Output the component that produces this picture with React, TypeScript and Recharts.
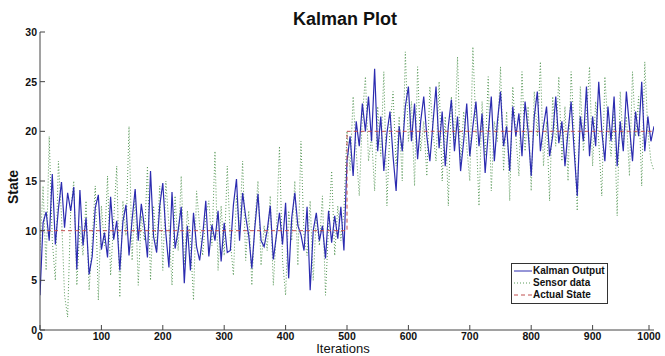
import { LineChart, Line, XAxis, YAxis } from 'recharts';

const STEP = 5;

const kalmanFirstHalf = [
  3.5, 10.8, 11.9, 9.0, 15.7, 8.6, 12.2, 14.9, 10.3, 13.8,
  12.0, 14.4, 6.1, 14.1, 8.5, 11.3, 5.6, 7.4, 12.3, 13.6,
  8.1, 9.8, 7.3, 13.4, 9.1, 11.0, 6.0, 10.9, 12.6, 7.5,
  11.1, 14.2, 9.0, 12.7, 10.4, 7.3, 16.0, 9.4, 7.8, 12.5,
  14.8, 9.7, 6.3, 13.9, 8.2, 10.0, 12.4, 4.7, 10.5, 6.0,
  11.8, 8.4, 7.0, 9.5, 13.0, 7.4, 10.6, 9.0, 12.0, 6.9,
  10.8, 7.8, 8.0, 12.6, 15.2, 9.0, 13.8, 11.4, 9.5, 6.2,
  10.4, 13.7, 9.0, 8.4, 10.0, 12.5, 7.1, 9.5, 11.8, 8.6,
  12.8, 5.2, 11.3, 13.8, 10.5, 9.6, 8.0, 12.4, 4.0, 10.0,
  11.8, 9.0, 10.5, 7.2, 12.0, 8.8, 11.5, 9.2, 12.4, 8.0,
];

const kalmanSecondHalf = [
  17.0, 19.5, 15.5, 21.0, 18.5, 22.8, 20.0, 23.5, 19.0, 26.3,
  18.0, 21.5, 16.0, 19.8, 22.0, 17.5, 14.0, 20.5, 18.0, 22.5,
  24.5, 19.0, 22.8, 17.2, 21.0, 23.5, 19.5, 17.0, 20.8, 24.5,
  18.3, 22.0, 16.5, 20.5, 23.2, 18.0, 21.5, 16.0, 19.0, 22.8,
  17.5, 20.5, 23.0, 18.5, 21.8, 15.8, 19.8, 23.5, 17.0, 21.0,
  24.0, 18.5, 20.5, 16.0, 22.5, 19.5, 21.8, 17.5, 23.0, 20.0,
  15.5, 21.5, 24.0, 18.0, 20.5, 22.5, 17.5, 19.5, 23.5, 18.8,
  21.0, 16.5, 20.0, 23.0, 18.0, 13.5, 21.5, 19.0, 24.5, 17.5,
  21.5, 18.5, 25.0, 20.0, 17.0, 22.5, 19.0, 23.5, 16.5, 21.0,
  18.0, 24.0, 20.5, 17.0, 22.0, 19.5, 25.0, 18.0, 21.5, 19.0,
  20.5,
];

const sensorFirstHalf = [
  8.0, 14.5, 6.0, 19.5, 9.0, 5.0, 17.0, 11.5, 3.5, 1.3,
  12.0, 15.0, 4.5, 10.5, 7.5, 13.0, 4.0, 9.0, 14.5, 3.0,
  12.5, 8.5, 15.5, 5.5, 11.0, 16.5, 3.3, 13.0, 9.5, 20.5,
  7.0, 14.0, 4.5, 11.5, 9.0, 16.5, 5.0, 12.5, 8.0, 14.5,
  6.0, 15.0, 10.5, 4.5, 13.5, 8.0, 15.5, 6.5, 12.0, 9.0,
  3.0, 14.0, 10.5, 7.5, 11.5, 13.0, 8.5, 18.0, 6.0, 12.5,
  7.5, 16.5, 9.0, 5.5, 13.5, 10.0, 17.0, 7.0, 12.0, 4.5,
  11.0, 15.0, 6.5, 10.5, 8.0, 13.5, 4.5, 10.0, 18.5, 7.0,
  3.5, 12.0, 9.0, 15.0, 6.5, 19.0, 9.5, 7.5, 13.0, 5.0,
  11.5, 8.5, 13.5, 3.5, 10.5, 16.0, 7.5, 12.5, 9.0, 12.0,
];

const sensorSecondHalf = [
  20.0, 16.0, 23.5, 18.0, 13.5, 21.5, 25.5, 17.0, 19.5, 14.0,
  22.5, 17.5, 26.0, 12.5, 20.5, 24.0, 16.5, 21.5, 15.0, 28.0,
  19.0, 23.0, 14.5, 26.5, 18.0, 21.0, 15.5, 24.5, 20.0, 17.0,
  25.0, 15.0, 21.5, 12.5, 23.5, 19.0, 27.5, 16.5, 22.0, 18.5,
  15.0, 28.5, 20.5, 12.5, 23.0, 17.5, 25.5, 14.0, 21.0, 19.0,
  26.5, 16.0, 22.0, 13.0, 24.5, 19.5, 15.5, 26.0, 18.0, 22.5,
  14.0, 24.0, 19.5, 27.0, 16.5, 21.0, 13.0, 23.5, 18.5, 25.5,
  17.0, 22.5, 15.0, 26.0, 20.0, 12.0, 24.5, 18.0, 21.5, 26.5,
  16.5, 23.0, 19.0, 13.5, 25.5, 20.5, 17.5, 22.0, 11.5, 24.0,
  18.5, 21.5, 15.5, 26.0, 19.5, 23.5, 14.5, 27.0, 20.0, 17.0,
  16.0,
];

// actual state: step change at iteration 500
const actualIters = [0, 500, 1000];
const actualLevels = [10, 20, 20];

const xTicks = [0, 100, 200, 300, 400, 500, 600, 700, 800, 900, 1000];
const yTicks = [0, 5, 10, 15, 20, 25, 30];

const kalman = [...kalmanFirstHalf, ...kalmanSecondHalf];
const sensor = [...sensorFirstHalf, ...sensorSecondHalf];

const chartData = kalman.map((k, i) => ({
  iter: i * STEP,
  kalman: k,
  sensor: sensor[i],
}));

const actualData = actualIters.map((iter, i) => ({ iter, actual: actualLevels[i] }));

const FONT = '"Liberation Sans", Arial, sans-serif';
const AXIS = '#444';
const KALMAN_COLOR = '#2c2cb0';
const SENSOR_COLOR = '#5a9a5a';
const ACTUAL_COLOR = '#c05050';

const BottomTick = (props: any) => {
  const { x, y, payload } = props;
  return (
    <g>
      <line x1={x} y1={y} x2={x} y2={y - 5} stroke={AXIS} />
      <text x={x} y={y + 10} textAnchor="middle" fontSize={10.5} fontWeight="bold" fill="#111" fontFamily={FONT}>
        {payload.value}
      </text>
    </g>
  );
};

const LeftTick = (props: any) => {
  const { x, y, payload } = props;
  return (
    <g>
      <line x1={x} y1={y} x2={x + 5} y2={y} stroke={AXIS} />
      <text x={x - 3} y={y + 4} textAnchor="end" fontSize={10.5} fontWeight="bold" fill="#111" fontFamily={FONT}>
        {payload.value}
      </text>
    </g>
  );
};

const legendItems = [
  { name: 'Kalman Output', color: KALMAN_COLOR, dash: undefined },
  { name: 'Sensor data', color: SENSOR_COLOR, dash: '1 2' },
  { name: 'Actual State', color: ACTUAL_COLOR, dash: '4 3' },
];

const LegendBox = () => (
  <div
    style={{
      position: 'absolute',
      left: 511,
      top: 263,
      width: 95,
      height: 38,
      border: '1px solid #333',
      background: '#fff',
      overflow: 'hidden',
      fontFamily: FONT,
      fontSize: 10,
      lineHeight: '12px',
      fontWeight: 'bold',
      color: '#111',
      paddingTop: 1,
    }}
  >
    {legendItems.map((it) => (
      <div key={it.name} style={{ display: 'flex', alignItems: 'center', height: 12, whiteSpace: 'nowrap' }}>
        <svg width={21} height={6} style={{ flex: 'none' }}>
          <line x1={2} y1={3} x2={20} y2={3} stroke={it.color} strokeWidth={1} strokeDasharray={it.dash} />
        </svg>
        <span>{it.name}</span>
      </div>
    ))}
  </div>
);

export default function App() {
  return (
    <div style={{ position: 'absolute', left: 0, top: 0, width: 665, height: 356, background: '#fff', overflow: 'hidden' }}>
      <LineChart width={665} height={356} data={chartData} margin={{ top: 32, right: 11, bottom: 0, left: 0 }}>
        <XAxis
          dataKey="iter"
          type="number"
          domain={[0, 1000]}
          ticks={xTicks}
          height={26}
          tickSize={0}
          tickMargin={0}
          tick={<BottomTick />}
          axisLine={{ stroke: AXIS }}
          allowDataOverflow
        />
        <XAxis
          xAxisId="top"
          orientation="top"
          type="number"
          domain={[0, 1000]}
          ticks={xTicks}
          height={0}
          mirror
          tick={false}
          tickSize={5}
          tickLine={{ stroke: AXIS }}
          axisLine={{ stroke: AXIS }}
        />
        <YAxis
          type="number"
          domain={[0, 30]}
          ticks={yTicks}
          width={40}
          tickSize={0}
          tickMargin={0}
          tick={<LeftTick />}
          axisLine={{ stroke: AXIS }}
          allowDataOverflow
        />
        <YAxis
          yAxisId="right"
          orientation="right"
          type="number"
          domain={[0, 30]}
          ticks={yTicks}
          width={0}
          mirror
          tick={false}
          tickSize={5}
          tickLine={{ stroke: AXIS }}
          axisLine={{ stroke: AXIS }}
        />
        <Line
          dataKey="sensor"
          type="linear"
          stroke={SENSOR_COLOR}
          strokeWidth={1}
          strokeDasharray="1 2"
          dot={false}
          isAnimationActive={false}
        />
        <Line
          dataKey="kalman"
          type="linear"
          stroke={KALMAN_COLOR}
          strokeWidth={1.2}
          dot={false}
          isAnimationActive={false}
        />
        <Line
          data={actualData}
          dataKey="actual"
          type="stepAfter"
          stroke={ACTUAL_COLOR}
          strokeWidth={1}
          strokeDasharray="4 3"
          dot={false}
          isAnimationActive={false}
        />
      </LineChart>
      <div
        style={{
          position: 'absolute',
          left: 0,
          width: 690,
          top: 10,
          textAlign: 'center',
          fontFamily: FONT,
          fontWeight: 'bold',
          fontSize: 18,
          lineHeight: '18px',
          color: '#111',
        }}
      >
        Kalman Plot
      </div>
      <div
        style={{
          position: 'absolute',
          left: 13,
          top: 187,
          transform: 'translate(-50%, -50%) rotate(-90deg)',
          fontFamily: FONT,
          fontWeight: 'bold',
          fontSize: 14,
          lineHeight: '14px',
          color: '#111',
          whiteSpace: 'nowrap',
        }}
      >
        State
      </div>
      <div
        style={{
          position: 'absolute',
          left: 0,
          width: 686,
          top: 342,
          textAlign: 'center',
          fontFamily: FONT,
          fontSize: 13,
          lineHeight: '13px',
          color: '#111',
        }}
      >
        Iterations
      </div>
      <LegendBox />
    </div>
  );
}
